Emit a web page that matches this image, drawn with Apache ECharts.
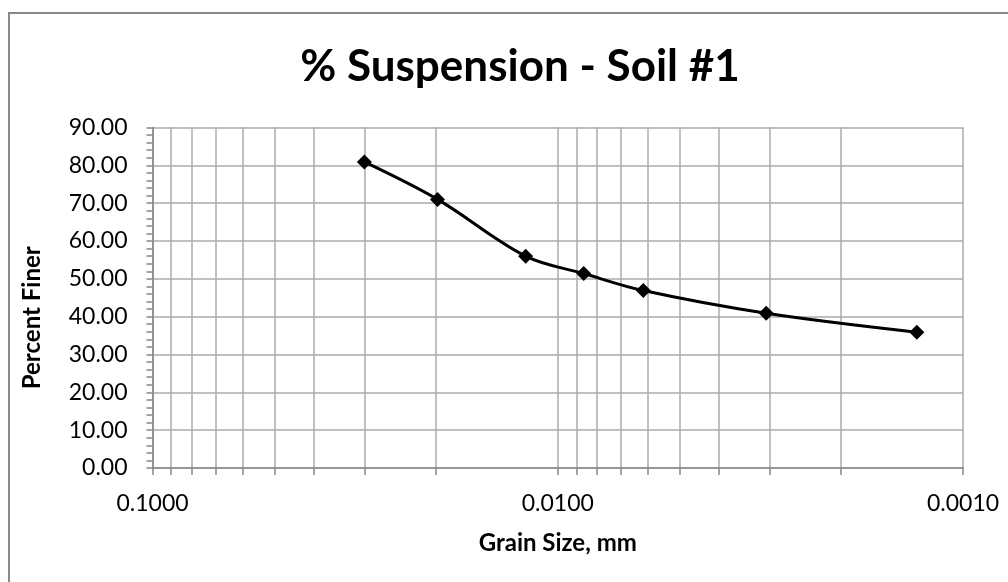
<!DOCTYPE html>
<html>
<head>
<meta charset="utf-8">
<script src="https://cdn.jsdelivr.net/npm/echarts@6/dist/echarts.min.js"></script>
<style>
html,body{margin:0;padding:0;background:#fff;}
#chart{width:1008px;height:582px;}
</style>
</head>
<body>
<div id="chart"></div>
<script>
const titleText = '% Suspension - Soil #1';
const xAxisTitle = 'Grain Size, mm';
const yAxisTitle = 'Percent Finer';
const grainSize = [0.0300, 0.0198, 0.0120, 0.00863, 0.00615, 0.00306, 0.00130];
const percentFiner = [80.9, 71.0, 56.0, 51.4, 46.9, 40.9, 35.9];
const xLabelValues = [0.1, 0.01, 0.001];
const xGridValues = [0.001,0.002,0.003,0.004,0.005,0.006,0.007,0.008,0.009,
                     0.01,0.02,0.03,0.04,0.05,0.06,0.07,0.08,0.09,0.1];

const chart = echarts.init(document.getElementById('chart'));
const font = 'Lato, "Open Sans", sans-serif';
chart.setOption({
  animation: false,
  backgroundColor: '#fff',
  graphic: [{
    type: 'rect', silent: true,
    shape: {x: 9, y: 13, width: 1200, height: 800},
    style: {fill: 'none', stroke: '#898989', lineWidth: 2}
  }],
  title: {
    text: titleText, left: 515, top: 40, textAlign: 'center',
    textStyle: {fontFamily: font, fontWeight: 'bold', fontSize: 44, color: '#000'}
  },
  grid: {left: 152.5, right: 45, top: 127.5, bottom: 114},
  xAxis: {
    type: 'log', logBase: 10, min: 0.001, max: 0.1, inverse: true,
    name: xAxisTitle, nameLocation: 'middle', nameGap: 63,
    nameTextStyle: {fontFamily: font, fontWeight: 'bold', fontSize: 24, color: '#000'},
    axisLine: {show: true, lineStyle: {color: '#868686', width: 1.5}},
    axisTick: {show: true, length: 7, inside: false, customValues: xGridValues, lineStyle: {color: '#868686', width: 1.5}},
    axisLabel: {customValues: xLabelValues, margin: 24, fontFamily: font, fontSize: 23, color: '#000',
      formatter: v => Number(v).toFixed(4)},
    splitLine: {show: true, lineStyle: {color: '#ababab', width: 1.5}},
    minorTick: {show: false}, minorSplitLine: {show: false}
  },
  yAxis: {
    type: 'value', min: 0, max: 90, interval: 10,
    name: yAxisTitle, nameLocation: 'middle', nameGap: 108, nameRotate: 90,
    nameTextStyle: {fontFamily: font, fontWeight: 'bold', fontSize: 24, color: '#000', padding: [0, 40, 0, 0]},
    axisLine: {show: true, lineStyle: {color: '#868686', width: 1.5}},
    axisTick: {show: true, length: 6, lineStyle: {color: '#868686', width: 1.5}},
    minorTick: {show: true, splitNumber: 5, length: 6, lineStyle: {color: '#868686', width: 1.5}},
    axisLabel: {margin: 25, fontFamily: font, fontSize: 23, color: '#000', formatter: v => v.toFixed(2)},
    splitLine: {show: true, lineStyle: {color: '#ababab', width: 1.5}}
  },
  series: [{
    type: 'line',
    data: grainSize.map((g, i) => [g, percentFiner[i]]),
    smooth: 0.35,
    symbol: 'diamond', symbolSize: 15,
    lineStyle: {color: '#000', width: 3},
    itemStyle: {color: '#000'}
  }]
});
</script>
</body>
</html>
